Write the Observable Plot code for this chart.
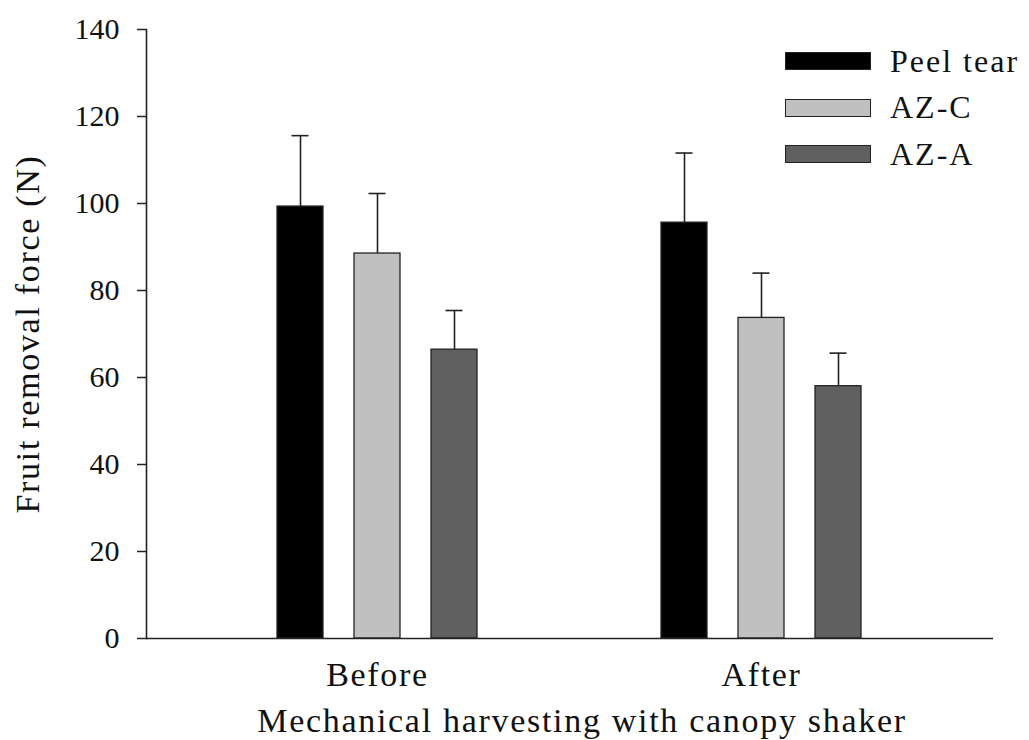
<!DOCTYPE html>
<html>
<head>
<meta charset="utf-8">
<script src="https://cdn.jsdelivr.net/npm/d3@7"></script>
<script src="https://cdn.jsdelivr.net/npm/@observablehq/plot@0.6"></script>
<style>
  html, body { margin: 0; padding: 0; background: #fff; }
  #chart { position: relative; width: 1029px; height: 740px; font-family: "Liberation Serif", "Times New Roman", serif; }
  #legend { position: absolute; left: 785px; top: 38px; }
  .row { display: flex; align-items: center; height: 46.5px; }
  .sw { width: 84px; height: 16px; border: 1.5px solid #222; margin-right: 19px; }
  .lab { font-size: 32px; letter-spacing: 2px; color: #111; }
  #chart g[aria-label="x-axis tick label"] text,
  #chart g[aria-label="text"] text { letter-spacing: 1.7px; }
</style>
</head>
<body>
<div id="chart"><div id="legend"></div></div>
<script>
const groups = ["Before", "After"];
const series = ["Peel tear", "AZ-C", "AZ-A"];
const colors = ["#000000", "#c0c0c0", "#606060"];
const beforeMeans = [99.3, 88.5, 66.4];
const beforeErr = [16.3, 13.8, 9.0];
const afterMeans = [95.6, 73.7, 58.0];
const afterErr = [16.0, 10.3, 7.6];
const yTicks = [0, 20, 40, 60, 80, 100, 120, 140];
const yLabel = "Fruit removal force (N)";
const xLabel = "Mechanical harvesting with canopy shaker";

const data = [];
series.forEach((s, i) => {
  data.push({group: "Before", series: s, value: beforeMeans[i], upper: beforeMeans[i] + beforeErr[i]});
  data.push({group: "After", series: s, value: afterMeans[i], upper: afterMeans[i] + afterErr[i]});
});

const step = 77, barInset = 15, capInset = 29.5;
const marks = [];
series.forEach((s, i) => {
  const d = data.filter(r => r.series === s);
  marks.push(Plot.barY(d, {
    x: "group", y: "value", fill: colors[i], stroke: "#222", strokeWidth: 1.3,
    insetLeft: barInset + i * step, insetRight: barInset + (2 - i) * step
  }));
  marks.push(Plot.ruleX(d, {
    x: "group", y1: "value", y2: "upper", stroke: "#222", strokeWidth: 1.6, dx: (i - 1) * step
  }));
  marks.push(Plot.tickY(d, {
    x: "group", y: "upper", stroke: "#222", strokeWidth: 1.6,
    insetLeft: capInset + i * step, insetRight: capInset + (2 - i) * step
  }));
});

const plot = Plot.plot({
  width: 1029,
  height: 740,
  marginLeft: 146,
  marginRight: 36,
  marginTop: 29,
  marginBottom: 102,
  style: {fontFamily: "'Liberation Serif', 'Times New Roman', serif", background: "#fff", color: "#111"},
  x: {domain: groups, paddingInner: 0.4, paddingOuter: 0.3},
  y: {domain: [0, 140]},
  marks: [
    Plot.axisY({ticks: yTicks, tickSize: 9, tickPadding: 18, label: null, fontSize: 30, stroke: "#222", strokeWidth: 1.5, fill: "#111"}),
    Plot.axisX({tickSize: 0, tickPadding: 23, label: null, fontSize: 34, fill: "#111"}),
    ...marks,
    Plot.frame({anchor: "left", stroke: "#222", strokeWidth: 1.6}),
    Plot.ruleY([0], {stroke: "#222", strokeWidth: 1.6}),
    Plot.text([yLabel], {frameAnchor: "left", rotate: -90, dx: -118, textAnchor: "middle", lineAnchor: "middle", fontSize: 34, fill: "#111"}),
    Plot.text([xLabel], {frameAnchor: "bottom", dy: 83, dx: 12, textAnchor: "middle", lineAnchor: "middle", fontSize: 34, fill: "#111"})
  ]
});
document.getElementById("chart").prepend(plot);
plot.style.position = "absolute";
plot.style.left = "0";
plot.style.top = "0";

const legend = document.getElementById("legend");
series.forEach((s, i) => {
  const row = document.createElement("div");
  row.className = "row";
  const sw = document.createElement("div");
  sw.className = "sw";
  sw.style.background = colors[i];
  const lab = document.createElement("span");
  lab.className = "lab";
  lab.textContent = s;
  row.append(sw, lab);
  legend.append(row);
});
</script>
</body>
</html>
